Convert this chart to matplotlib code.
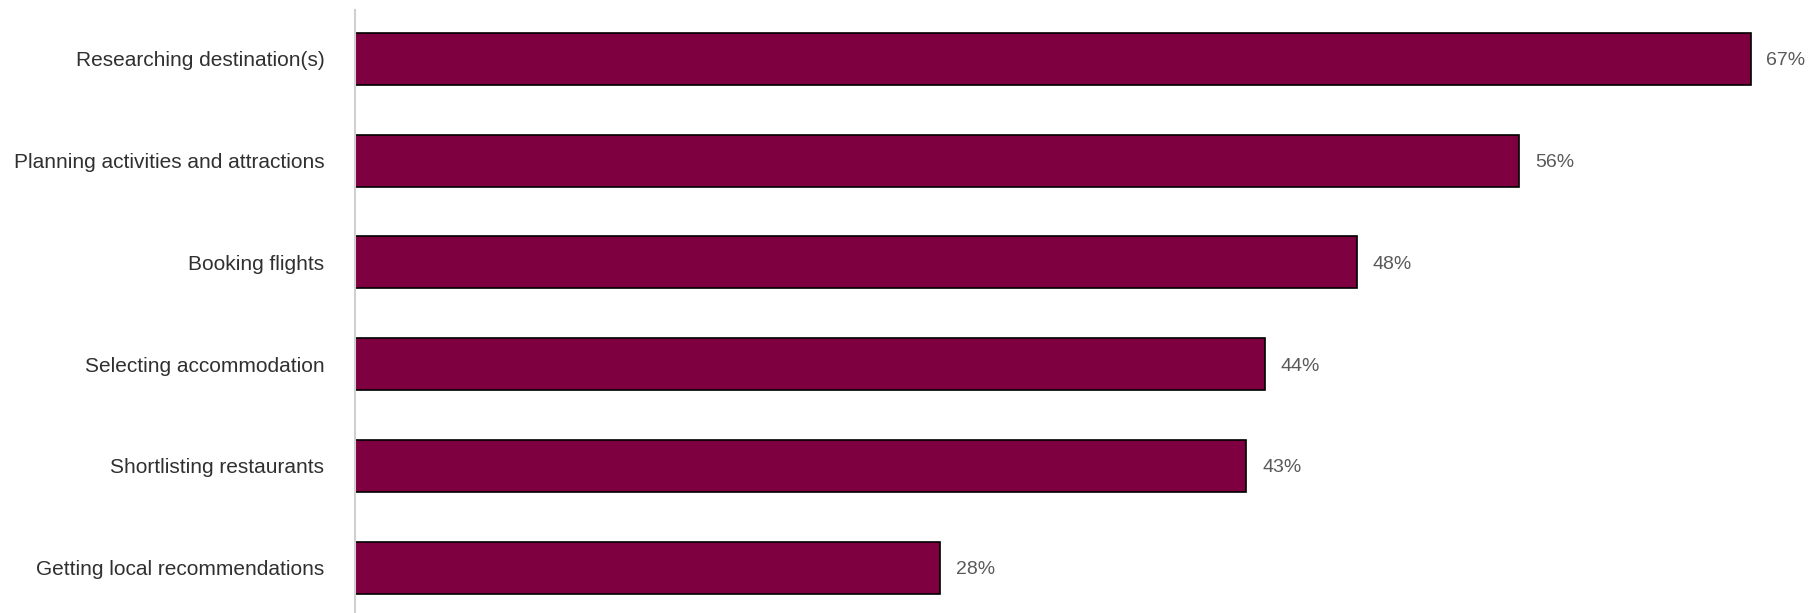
import matplotlib.pyplot as plt

categories = ['Researching destination(s)',
              'Planning activities and attractions',
              'Booking flights',
              'Selecting accommodation',
              'Shortlisting restaurants',
              'Getting local recommendations']
values = [67, 55.9, 48.1, 43.7, 42.8, 28.1]

plt.rcParams['font.family'] = ['Liberation Sans', 'DejaVu Sans']

fig = plt.figure(figsize=(18.13, 6.13), dpi=100)
ax = fig.add_axes([355 / 1813, 0, 1 - 355 / 1813, 603 / 613])

y = list(range(len(categories)))
ax.barh(y, values, height=0.51, color='#7F0041', edgecolor='black', linewidth=1.2)

for yi, v in zip(y, values):
    ax.text(v + 0.75, yi + 0.02, f'{v:.0f}%', va='center', ha='left', fontsize=14, color='#595959')

ax.set_yticks(y)
ax.set_yticklabels(categories, fontsize=15, color='#303030')
ax.tick_params(axis='y', length=0, pad=22)
ax.set_ylim(len(categories) - 1 + 0.445, -0.48)
ax.set_xlim(0, 70)
ax.set_xticks([])

for s in ['top', 'right', 'bottom']:
    ax.spines[s].set_visible(False)
ax.spines['left'].set_color('#d0d0d0')
ax.spines['left'].set_linewidth(1.5)

fig.savefig('out.png', dpi=100)
